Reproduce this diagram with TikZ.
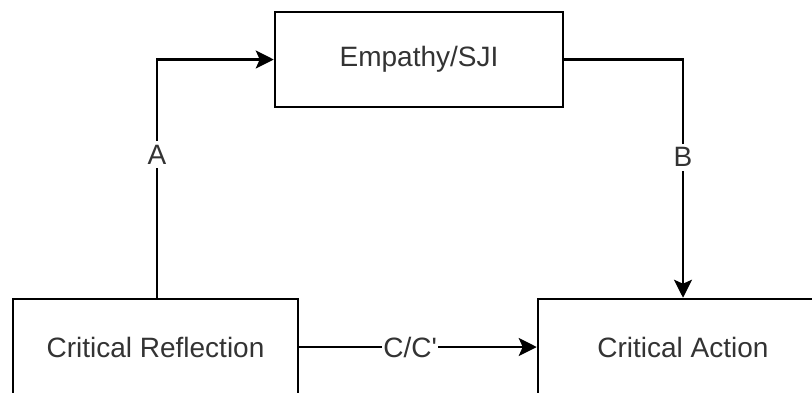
\documentclass[tikz,border=0pt]{standalone}
\usepackage{fontspec}
\setmainfont{Liberation Sans}
\usetikzlibrary{arrows.meta}
\definecolor{txt}{HTML}{333333}
\tikzset{
  box/.style={draw=black, line width=2.5pt, rectangle, minimum width=#1, minimum height=96pt, inner sep=0pt, text=txt, font=\fontsize{28}{34}\selectfont},
  conn/.style={draw=black, line width=2.5pt, -{Stealth[length=18pt, width=18pt, inset=4pt]}},
  lab/.style={fill=white, text=txt, inner xsep=1pt, inner ysep=4pt, font=\fontsize{28}{34}\selectfont}
}
\begin{document}
\begin{tikzpicture}[x=1pt, y=-1pt]
\useasboundingbox (0,0) rectangle (812,392);
\clip (0,0) rectangle (812,392);
\node[box=288pt, minimum height=95pt] (emp) at (419,59.5) {Empathy/SJI};
\node[box=285pt] (cr) at (155.5,347) {Critical Reflection};
\node[box=290pt] (ca) at (683,347) {Critical Action};
\draw[conn] ([xshift=1.5pt]cr.north) |- (emp.west) node[lab, pos=0.3] {A};
\draw[conn] (emp.east) -| (ca.north) node[lab, pos=0.705] {B};
\draw[conn] (cr.east) -- (ca.west) node[lab, pos=0.467] {C/C\textquotesingle};
\end{tikzpicture}
\end{document}
